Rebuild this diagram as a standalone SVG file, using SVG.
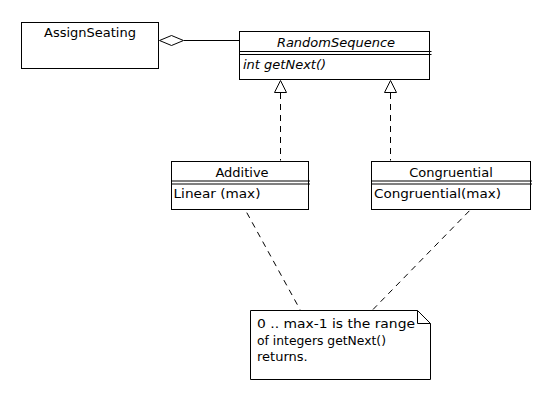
<svg xmlns="http://www.w3.org/2000/svg" width="550" height="400" viewBox="0 0 550 400">
<style>
.box{fill:#fff;stroke:#000;stroke-width:1}
.ln{stroke:#000;stroke-width:1;fill:none}
.dash{stroke:#000;stroke-width:1;fill:none;stroke-dasharray:6,5}
text{font-family:"DejaVu Sans",sans-serif;font-size:13px;fill:#000}
.it{font-style:italic}
.c{text-anchor:middle}
</style>
<rect width="550" height="400" fill="#fff"/>
<g id="connectors">
<path class="ln" d="M184,40.5H239.5"/>
<polygon points="159.5,40.5 171.5,35.5 183.5,40.5 171.5,45.5" fill="#fff" stroke="#000"/>
<path class="dash" d="M280.5,93V160.5"/>
<polygon points="280.5,80.5 274.5,92.5 286.5,92.5" fill="#fff" stroke="#000"/>
<path class="dash" d="M390.5,93V160.5"/>
<polygon points="390.5,80.5 384.5,92.5 396.5,92.5" fill="#fff" stroke="#000"/>
<path class="dash" d="M241.5,203L300,309.5"/>
<path class="dash" d="M477,203L373,309.5"/>
</g>
<g id="AssignSeating">
<rect class="box" x="21.5" y="22.5" width="137" height="46"/>
<text class="c" x="90" y="37">AssignSeating</text>
</g>
<g id="RandomSequence">
<rect class="box" x="239.5" y="31.5" width="190" height="48"/>
<path class="ln" d="M239.5,51.5H431.5M239.5,54.5H431.5"/>
<text class="c it" x="336" y="46.5">RandomSequence</text>
<text class="it" x="243" y="69">int getNext()</text>
</g>
<g id="Additive">
<rect class="box" x="171.5" y="161.5" width="137" height="48"/>
<path class="ln" d="M171.5,181H310M171.5,184H310"/>
<text class="c" x="242" y="177">Additive</text>
<text x="173.5" y="198" textLength="87" lengthAdjust="spacingAndGlyphs">Linear (max)</text>
</g>
<g id="Congruential">
<rect class="box" x="371.5" y="161.5" width="159" height="48"/>
<path class="ln" d="M371.5,181H532M371.5,184H532"/>
<text class="c" x="451" y="177">Congruential</text>
<text x="374" y="198" textLength="127" lengthAdjust="spacingAndGlyphs">Congruential(max)</text>
</g>
<g id="note">
<path class="box" d="M250.5,310.5H417.5L430.5,323.5V379.5H250.5Z"/>
<path class="ln" d="M417.5,310.5V323.5H430.5"/>
<text x="257" y="328" textLength="158" lengthAdjust="spacingAndGlyphs">0 .. max-1 is the range</text>
<text x="257" y="345" textLength="129" lengthAdjust="spacingAndGlyphs">of integers getNext()</text>
<text x="257" y="361">returns.</text>
</g>
</svg>
